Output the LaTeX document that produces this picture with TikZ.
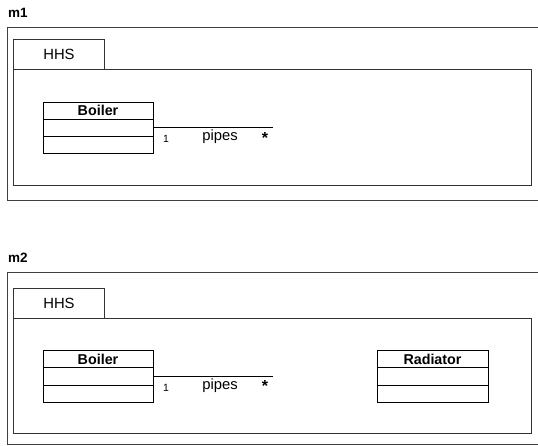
\documentclass[tikz,border=0pt]{standalone}
\usepackage{fontspec}
\setmainfont{Liberation Sans}
\begin{document}
\begin{tikzpicture}[x=1pt,y=-1pt,
  frame/.style={draw=black!75, line width=0.9pt},
  pkg/.style={draw=black!80, line width=0.9pt},
  umlclass/.style={draw=black, line width=0.9pt, minimum width=110pt, inner sep=0pt},
  title/.style={font=\fontsize{14.3}{16}\selectfont\bfseries, inner sep=0pt},
  mtitle/.style={font=\fontsize{13.5}{15}\selectfont\bfseries, inner sep=0pt},
  txt/.style={font=\fontsize{14.8}{16}\selectfont, inner sep=0pt},
  small/.style={font=\fontsize{10.5}{12}\selectfont, inner sep=0pt},
  star/.style={font=\fontsize{16}{17}\selectfont\bfseries, inner sep=0pt},
  assoc/.style={draw=black, line width=0.8pt}]
\useasboundingbox (0,0) rectangle (538,446);
\begin{scope}
\clip (0,0) rectangle (538,446);
% ---------- m1 ----------
\node[mtitle, anchor=base west] (m1) at (8,18) {m1};
\draw[frame] (7,27) rectangle (560,200);
\node[pkg, anchor=north west, minimum width=91pt, minimum height=30pt, inner sep=0pt, txt] (tab1) at (13,39) {HHS};
\draw[pkg] (tab1.south west) rectangle (531,185);
\node[umlclass, minimum height=51pt] (b1) at (98,127.5) {};
\draw[line width=0.9pt] (43,119) -- (153,119) (43,136) -- (153,136);
\node[title] (b1t) at (98,110.5) {Boiler};
\coordinate (e1) at (273,127.5);
\draw[assoc] (b1.east) -- (e1);
\node[small] (m1one) at (166,139) {1};
\node[txt] (m1pipes) at (220,137) {pipes};
\node[star] (m1star) at (265,137.5) {*};
% ---------- m2 ----------
\node[mtitle, anchor=base west] (m2) at (8,263) {m2};
\draw[frame] (7,272) rectangle (560,444);
\node[pkg, anchor=north west, minimum width=91pt, minimum height=30pt, inner sep=0pt, txt] (tab2) at (13,288) {HHS};
\draw[pkg] (tab2.south west) rectangle (531,433);
\node[umlclass, minimum height=52pt] (b2) at (98,376) {};
\draw[line width=0.9pt] (43,367.5) -- (153,367.5) (43,385) -- (153,385);
\node[title] (b2t) at (98,359) {Boiler};
\node[umlclass, minimum height=52pt, minimum width=111pt] (r2) at (432.5,376) {};
\draw[line width=0.9pt] (377,367.5) -- (488,367.5) (377,385) -- (488,385);
\node[title] (r2t) at (432.5,359) {Radiator};
\coordinate (e2) at (273,376);
\draw[assoc] (b2.east) -- (e2);
\node[small] (m2one) at (166,387.5) {1};
\node[txt] (m2pipes) at (220,385.5) {pipes};
\node[star] (m2star) at (265,386) {*};
\end{scope}
\end{tikzpicture}
\end{document}
